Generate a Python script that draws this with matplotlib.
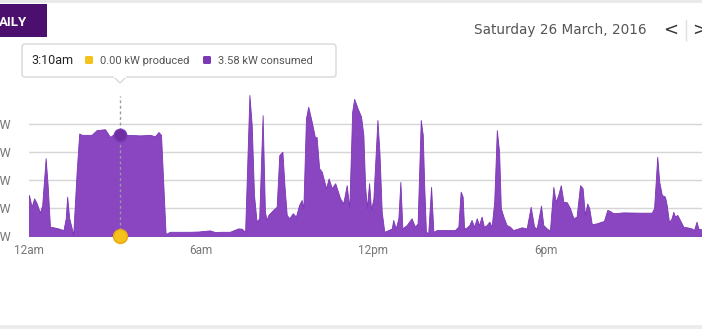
import matplotlib.pyplot as plt
from matplotlib.patches import FancyBboxPatch, Rectangle, Polygon

# consumption trace, hours after midnight -> kW
hours = [0.0, 0.09, 0.18, 0.27, 0.38, 0.46, 0.58, 0.65, 0.73, 0.85, 1.02, 1.20, 1.28, 1.33, 1.40, 1.49,
         1.54, 1.66, 1.75, 1.84, 2.18, 2.36, 2.65, 2.82, 3.00, 3.17, 3.52, 3.87, 4.22, 4.39, 4.51, 4.60,
         4.76, 4.91, 5.20, 5.61, 5.90, 6.30, 6.48, 6.66, 7.00, 7.29, 7.41, 7.53, 7.68, 7.76, 7.84, 7.93,
         8.02, 8.14, 8.22, 8.28, 8.34, 8.51, 8.63, 8.72, 8.83, 8.90, 8.98, 9.07, 9.19, 9.30, 9.41, 9.50,
         9.56, 9.65, 9.73, 9.85, 9.97, 10.02, 10.11, 10.20, 10.35, 10.44, 10.55, 10.67, 10.84, 10.95,
         11.07, 11.16, 11.26, 11.33, 11.45, 11.57, 11.65, 11.71, 11.77, 11.85, 11.92, 12.00, 12.14,
         12.21, 12.29, 12.38, 12.52, 12.64, 12.69, 12.78, 12.87, 12.94, 13.01, 13.16, 13.33, 13.45,
         13.54, 13.65, 13.72, 13.77, 13.83, 13.91, 14.01, 14.09, 14.21, 14.84, 14.96, 15.04, 15.11,
         15.16, 15.25, 15.34, 15.42, 15.51, 15.60, 15.68, 15.77, 15.85, 15.95, 16.04, 16.12, 16.21,
         16.30, 16.38, 16.44, 16.53, 16.64, 16.76, 16.87, 17.05, 17.17, 17.34, 17.48, 17.60, 17.69,
         17.84, 17.92, 18.04, 18.15, 18.27, 18.35, 18.44, 18.53, 18.62, 18.74, 18.85, 18.97, 19.08,
         19.20, 19.29, 19.37, 19.45, 19.52, 19.61, 19.78, 19.95, 20.03, 20.15, 20.24, 20.36, 20.71,
         21.29, 21.70, 21.78, 21.89, 21.96, 22.05, 22.16, 22.22, 22.30, 22.39, 22.45, 22.51, 22.59,
         22.68, 22.80, 22.97, 23.09, 23.17, 23.26, 23.32, 23.40, 23.70]
kw = [1.46, 1.04, 1.34, 1.16, 0.83, 1.10, 2.77, 1.81, 0.33, 0.31, 0.27, 0.21, 0.63, 1.40, 0.64, 0.27,
      0.04, 2.29, 3.65, 3.60, 3.60, 3.77, 3.80, 3.53, 3.65, 3.58, 3.60, 3.58, 3.60, 3.55, 3.70, 3.60,
      0.07, 0.15, 0.15, 0.15, 0.16, 0.20, 0.14, 0.15, 0.15, 0.27, 0.26, 0.15, 5.02, 3.95, 1.46, 0.51,
      0.63, 4.30, 0.86, 0.57, 0.75, 0.93, 1.04, 2.88, 3.00, 1.81, 0.75, 0.63, 0.81, 0.69, 1.10, 1.28,
      0.99, 4.19, 4.60, 4.07, 3.48, 3.53, 2.41, 2.29, 1.70, 2.05, 1.70, 1.88, 1.34, 1.16,
      1.81, 0.99, 4.42, 4.88, 4.54, 4.25, 3.60, 1.81, 0.99, 1.88, 0.93, 1.34, 4.13,
      3.00, 0.86, 0.15, 0.21, 0.27, 0.57, 0.27, 0.63, 1.93, 0.27, 0.39, 0.63, 0.33,
      0.45, 4.13, 3.60, 1.81, 0.15, 0.10, 1.75, 0.15, 0.21, 0.21, 0.33, 1.58, 1.40,
      0.27, 0.30, 0.39, 0.57, 0.33, 0.63, 0.39, 0.69, 0.33, 0.39, 0.51, 0.33, 1.22,
      3.77, 3.00, 0.99, 0.69, 0.39, 0.33, 0.21, 0.27, 0.31, 0.27, 1.04, 0.33, 0.27,
      1.08, 0.39, 0.27, 0.19, 1.75, 1.22, 1.46, 1.81, 1.22, 1.20, 0.99, 0.63, 0.69,
      1.81, 1.70, 0.75, 1.16, 0.99, 0.42, 0.45, 0.51, 0.53, 0.93, 0.89, 0.81, 0.84,
      0.83, 0.83, 0.99, 2.82, 1.93, 1.46, 1.40, 1.10, 0.49, 0.63, 0.86, 0.69, 0.75,
      0.57, 0.33, 0.30, 0.27, 0.21, 0.51, 0.27, 0.24, 0.25]

tick_hours = [0, 6, 12, 18]
tick_names = ["12am", "6am", "12pm", "6pm"]
y_ticks = [0, 1, 2, 3, 4]

sel = 25  # 3:10am point shown in the tooltip
sel_label = "3:10am"
produced = 0.00

purple = "#8a45c1"

fig = plt.figure(figsize=(7.02, 3.29), dpi=100)
W, H = 702, 329

# plot axes: 12am at x=29px, 6 hours = 172px, baseline at y=236px
left = 29 / W
width = 24 * 28.7 / W
bottom = (H - 236) / H
height = 5.3 * 28.1 / H
ax = fig.add_axes([left, bottom, width, height])
ax.fill_between(hours, kw, 0, color=purple, lw=0.6, edgecolor="#7b36b3", zorder=2)
ax.set_xlim(0, 24)
ax.set_ylim(0, 5.3)
ax.set_yticks(y_ticks)
ax.set_yticklabels([f"{v} kW" for v in y_ticks], color="#777777", fontsize=9, family="Roboto")
ax.set_xticks(tick_hours)
ax.set_xticklabels(tick_names, color="#777777", fontsize=8.5, family="Roboto")
ax.tick_params(axis="y", length=0, pad=13)
ax.tick_params(axis="x", length=0, pad=6)
ax.grid(axis="y", color="#d6d6d6", lw=1, zorder=1)
for s in ax.spines.values():
    s.set_visible(False)

# hover marker
ax.plot([hours[sel], hours[sel]], [0, 5.0], ls=(0, (2, 2)), color="#9a9a9a", lw=1, zorder=3, clip_on=False)
ax.plot(hours[sel], kw[sel], "o", ms=9, color="#6f2fa3", mec="#7d3ab5", zorder=4)
ax.plot(hours[sel], produced, "o", ms=10, color="#f4c21b", mec="#e8a812", zorder=5, clip_on=False)

# overlay in pixel space for page decorations
ov = fig.add_axes([0, 0, 1, 1], facecolor="none")
ov.set_xlim(0, W)
ov.set_ylim(H, 0)
ov.axis("off")
ov.add_patch(Rectangle((0, 0), W, 3, color="#e9e9e9", lw=0))
ov.add_patch(Rectangle((0, 325), W, 4, color="#ececec", lw=0))
ov.add_patch(Rectangle((0, 4), 47, 33, color="#4b0f6d", lw=0))
ov.text(-1, 23, "AILY", color="white", fontsize=9.5, fontweight="bold", va="center", family="Roboto")

ov.text(647, 30, "Saturday 26 March, 2016", ha="right", va="center", color="#555555",
        fontsize=9.8, family="DejaVu Sans")
ov.text(671, 30, "<", ha="center", va="center", color="#333333", fontsize=13, family="DejaVu Sans")
ov.plot([686, 686], [20, 40], color="#e0e0e0", lw=1)
ov.text(700, 30, ">", ha="center", va="center", color="#333333", fontsize=13, family="DejaVu Sans")

# tooltip
ov.add_patch(FancyBboxPatch((22, 44), 314, 33, boxstyle="round,pad=0,rounding_size=3",
                            fc="white", ec="#d8d8d8", lw=1, zorder=5))
ov.add_patch(Polygon([[114, 77], [120, 83], [126, 77]], closed=True, fc="white", ec="#d8d8d8", lw=1, zorder=5))
ov.plot([115, 125], [77, 77], color="white", lw=1.5, zorder=6)
ov.text(31, 60.5, sel_label, va="center", color="#222222", fontsize=9, family="Roboto", zorder=7)
ov.add_patch(FancyBboxPatch((85, 56), 8, 8, boxstyle="round,pad=0,rounding_size=1.5",
                            fc="#f4c21b", ec="none", zorder=7))
ov.text(100, 60.5, f"{produced:.2f} kW produced", va="center", color="#555555", fontsize=8,
        family="Roboto", zorder=7)
ov.add_patch(FancyBboxPatch((203, 56), 8, 8, boxstyle="round,pad=0,rounding_size=1.5",
                            fc="#7c39b4", ec="none", zorder=7))
ov.text(218, 60.5, f"{kw[sel]:.2f} kW consumed", va="center", color="#555555", fontsize=8,
        family="Roboto", zorder=7)

fig.savefig("out.png", dpi=100)
